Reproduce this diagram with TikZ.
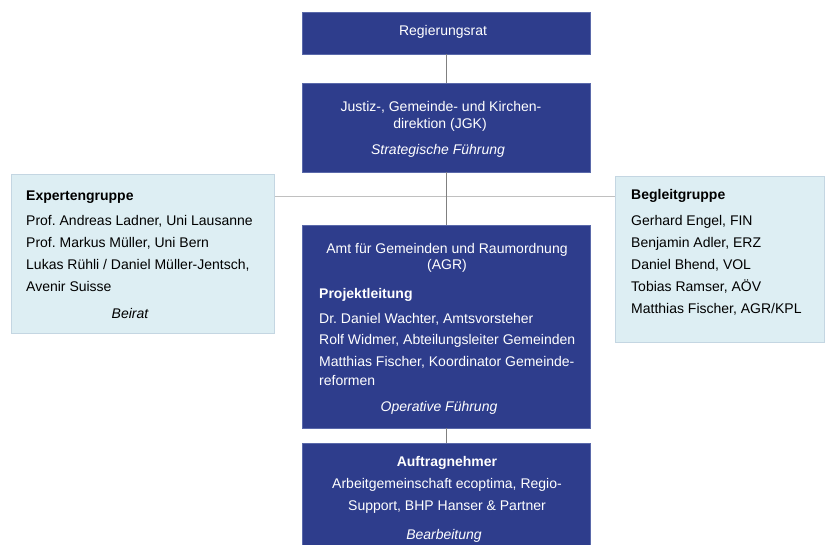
\documentclass[tikz,border=0pt]{standalone}
\usepackage{fontspec}
\setmainfont{Liberation Sans}
\frenchspacing
\definecolor{dblue}{RGB}{46,61,140}
\definecolor{dborder}{RGB}{90,105,170}
\definecolor{lblue}{RGB}{221,238,243}
\definecolor{lborder}{RGB}{196,214,226}
\definecolor{vline}{RGB}{128,128,128}
\definecolor{hline}{RGB}{192,192,192}
\begin{document}
\begin{tikzpicture}[x=1pt,y=-1pt,
  dbox/.style={draw=dborder, fill=dblue, line width=0.8pt, minimum width=288pt, inner sep=0pt},
  lbox/.style={draw=lborder, fill=lblue, line width=1pt, inner sep=0pt},
  tw/.style={text=white, inner sep=0pt, font=\fontsize{14}{17}\selectfont},
  tk/.style={text=black, inner sep=0pt, font=\fontsize{14}{17}\selectfont},
  vconn/.style={draw=vline, line width=0.8pt},
  hconn/.style={draw=hline, line width=1.6pt}]
\useasboundingbox (0,0) rectangle (825,545);
% boxes
\node[dbox, minimum height=42pt] (rr) at (446,33) {};
\node[dbox, minimum height=89pt] (jgk) at (446,127.5) {};
\node[dbox, minimum height=203pt] (agr) at (446.5,326.5) {};
\node[dbox, minimum height=120pt] (auf) at (446.5,503) {};
\node[lbox, minimum width=263pt, minimum height=159pt] (exp) at (142.5,254.5) {};
\node[lbox, minimum width=209pt, minimum height=166pt] (beg) at (719.5,260) {};
% connectors
\coordinate (j) at (446,196.5);
\draw[hconn] (exp.east |- j) -- (beg.west |- j);
\draw[vconn] (rr.south) -- (jgk.north);
\draw[vconn] (jgk.south) -- (agr.north -| jgk.south);
\draw[vconn] (agr.south -| jgk.south) -- (auf.north -| jgk.south);
% Regierungsrat
\node[tw, anchor=base] (t1) at (443,36) {Regierungsrat};
% JGK
\node[tw, anchor=base] (t2) at (441,112) {Justiz-, Gemeinde- und Kirchen-};
\node[tw, anchor=base] (t3) at (440,128.5) {direktion (JGK)};
\node[tw, anchor=base] (t4) at (438,154.5) {\itshape Strategische Führung};
% Expertengruppe
\node[tk, anchor=base west] (e1) at (26,201) {\bfseries Expertengruppe};
\node[tk, anchor=base west] (e2) at (26,226) {Prof. Andreas Ladner, Uni Lausanne};
\node[tk, anchor=base west] (e3) at (26,248) {Prof. Markus Müller, Uni Bern};
\node[tk, anchor=base west] (e4) at (26,270) {Lukas Rühli / Daniel Müller-Jentsch,};
\node[tk, anchor=base west] (e5) at (26,292) {Avenir Suisse};
\node[tk, anchor=base] (e6) at (130,319) {\itshape Beirat};
% Begleitgruppe
\node[tk, anchor=base west] (b1) at (631,200) {\bfseries Begleitgruppe};
\node[tk, anchor=base west] (b2) at (631,226) {Gerhard Engel, FIN};
\node[tk, anchor=base west] (b3) at (631,248) {Benjamin Adler, ERZ};
\node[tk, anchor=base west] (b4) at (631,270) {Daniel Bhend, VOL};
\node[tk, anchor=base west] (b5) at (631,292) {Tobias Ramser, AÖV};
\node[tk, anchor=base west] (b6) at (631,314) {Matthias Fischer, AGR/KPL};
% AGR
\node[tw, anchor=base] (a1) at (447,253.3) {Amt für Gemeinden und Raumordnung};
\node[tw, anchor=base] (a2) at (447,270) {(AGR)};
\node[tw, anchor=base west] (a3) at (319,298.3) {\bfseries Projektleitung};
\node[tw, anchor=base west] (a4) at (319,323.3) {Dr. Daniel Wachter, Amtsvorsteher};
\node[tw, anchor=base west] (a5) at (319,345) {Rolf Widmer, Abteilungsleiter Gemeinden};
\node[tw, anchor=base west] (a6) at (319,366.7) {Matthias Fischer, Koordinator Gemeinde-};
\node[tw, anchor=base west] (a7) at (319,385.7) {reformen};
\node[tw, anchor=base] (a8) at (439,411.7) {\itshape Operative Führung};
% Auftragnehmer
\node[tw, anchor=base] (u1) at (447,466.7) {\bfseries Auftragnehmer};
\node[tw, anchor=base] (u2) at (447,488.3) {Arbeitgemeinschaft ecoptima, Regio-};
\node[tw, anchor=base] (u3) at (447,510.7) {Support, BHP Hanser \& Partner};
\node[tw, anchor=base] (u4) at (444,539) {\itshape Bearbeitung};
\end{tikzpicture}
\end{document}
